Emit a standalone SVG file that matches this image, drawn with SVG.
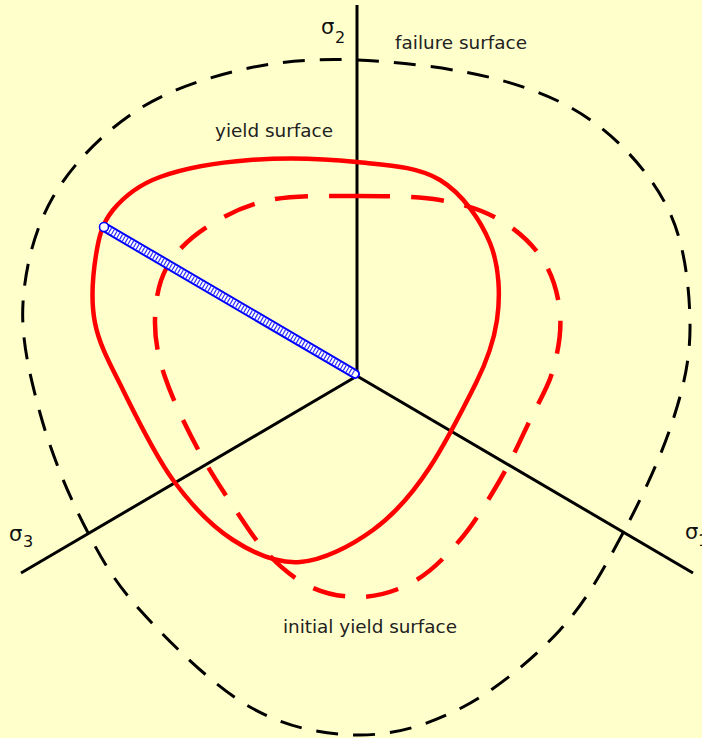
<svg xmlns="http://www.w3.org/2000/svg" width="702" height="738" viewBox="0 0 702 738">
  <style>
    .axis { stroke: #000; stroke-width: 3; fill: none; stroke-linecap: butt; }
    .failure { stroke: #000; stroke-width: 3; fill: none; stroke-dasharray: 22 15; }
    .yield { stroke: #ff0000; stroke-width: 4.5; fill: none; }
    .initial { stroke: #ff0000; stroke-width: 4.5; fill: none; stroke-dasharray: 33 21; }
    .lbl { font-family: "DejaVu Sans", "Liberation Sans", sans-serif; font-size: 18.4px; fill: #222; }
    .sig { font-family: "DejaVu Sans", "Liberation Sans", sans-serif; font-size: 21px; fill: #111; }
    .sub { font-family: "DejaVu Sans", "Liberation Sans", sans-serif; font-size: 16px; fill: #111; }
  </style>
  <rect x="0" y="0" width="702" height="738" fill="#FFFFCC"/>

  <g id="failure-surface">
    <path class="failure" d="M357,60 C400.3,61.7 459.5,68.8 500,80 C540.5,91.2 571.7,104.8 600,127 C628.3,149.2 655,180.3 670,213 C685,245.7 689.5,288.5 690,323 C690.5,357.5 684.2,385 673,420 C661.8,455 641.8,498 623,533 C604.2,568 586.7,601 560,630 C533.3,659 496.3,689.5 463,707 C429.7,724.5 395.5,735 360,735 C324.5,735 286.7,727.8 250,707 C213.3,686.2 167.8,640.7 140,610 C112.2,579.3 99.7,555.8 83,523 C66.3,490.2 50,449.7 40,413 C30,376.3 20.8,339 23,303 C25.2,267 34.7,228.7 53,197 C71.3,165.3 101.8,134.2 133,113 C164.2,91.8 202.7,78.8 240,70 C277.3,61.2 313.7,58.3 357,60 Z"/>
  </g>

  <g id="axes">
    <line class="axis" x1="357" y1="5" x2="357" y2="376"/>
    <line class="axis" x1="357" y1="376" x2="21" y2="573"/>
    <line class="axis" x1="357" y1="376" x2="693" y2="573"/>
  </g>

  <g id="initial-yield-surface">
    <path class="initial" d="M357,196 C385.3,196 416.2,196 440,200 C463.8,204 482.8,210 500,220 C517.2,230 533,244.5 543,260 C553,275.5 558.3,294.7 560,313 C561.7,331.3 558,352.2 553,370 C548,387.8 538.8,401.7 530,420 C521.2,438.3 511.7,460 500,480 C488.3,500 474.5,523 460,540 C445.5,557 430.2,572.5 413,582 C395.8,591.5 375.8,597.2 357,597 C338.2,596.8 318.3,592.7 300,581 C281.7,569.3 263.7,552 247,527 C230.3,502 213.7,478 200,453 C186.3,428 172.5,399.2 165,377 C157.5,354.8 154.7,338.3 155,320 C155.3,301.7 158.3,282.5 167,267 C175.7,251.5 189.8,238.2 207,227 C224.2,215.8 245,205.2 270,200 C295,194.8 328.7,196 357,196 Z"/>
  </g>

  <g id="yield-surface">
    <path class="yield" d="M357,162 C388.7,165.3 417.8,166.5 440,180 C462.2,193.5 480.5,219.7 490,243 C499.5,266.3 500.5,296.3 497,320 C493.5,343.7 486.5,362 476,383 C465.5,404 445.8,442.8 430,467 C414.2,491.2 394.7,514.2 373,530 C351.3,545.8 323.3,560.3 300,562 C276.7,563.7 254.2,553.7 233,540 C211.8,526.3 191.3,505 173,480 C154.7,455 136,416.2 123,390 C110,363.8 99.5,345.5 95,323 C90.5,300.5 93,273.8 96,255 C99,236.2 102.3,223 113,210 C123.7,197 137.2,185.3 160,177 C182.8,168.7 217.2,162.5 250,160 C282.8,157.5 325.3,158.7 357,162 Z"/>
  </g>

  <g id="stress-path">
    <line x1="104" y1="227" x2="355" y2="374" stroke="#0000ff" stroke-width="10" stroke-linecap="round"/>
    <line x1="104" y1="227" x2="355" y2="374" stroke="#ffffff" stroke-width="6" stroke-linecap="round"/>
    <line x1="104" y1="227" x2="355" y2="374" stroke="#3030ff" stroke-width="6" stroke-dasharray="1.2 2"/>
    <circle cx="104" cy="227" r="4.5" fill="#ffffff" stroke="#0000ff" stroke-width="1.5"/>
  </g>

  <g id="labels">
    <text class="sig" x="321" y="34">σ</text><text class="sub" x="335" y="43">2</text>
    <text class="sig" x="9" y="541">σ</text><text class="sub" x="23" y="547">3</text>
    <text class="sig" x="685" y="539">σ</text><text class="sub" x="698" y="546">1</text>
    <text class="lbl" x="395" y="49" textLength="132">failure surface</text>
    <text class="lbl" x="215" y="137" textLength="118">yield surface</text>
    <text class="lbl" x="283" y="633" textLength="174">initial yield surface</text>
  </g>
</svg>
